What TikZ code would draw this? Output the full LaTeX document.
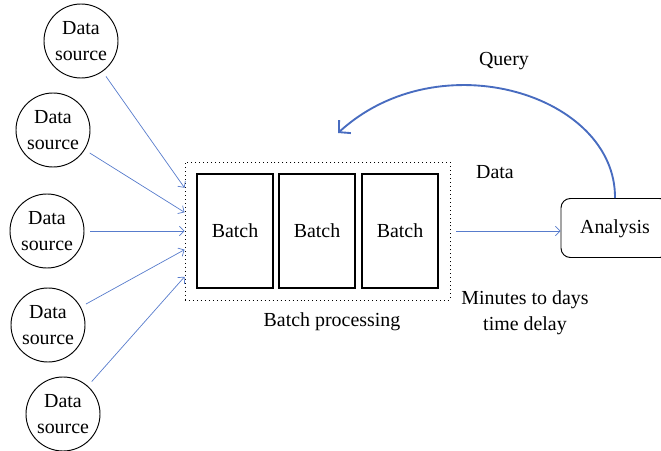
\documentclass[tikz,border=0pt]{standalone}
\usepackage{fontspec}
\setmainfont{Liberation Serif}
\usetikzlibrary{arrows.meta}

\definecolor{feedblue}{RGB}{88,124,204}
\definecolor{queryblue}{RGB}{72,108,192}

\begin{document}
\begin{tikzpicture}[x=0.03cm, y=-0.03cm,
    font=\fontsize{17}{22}\selectfont,
    source/.style={draw, circle, line width=0.8pt, minimum size=2.22cm, inner sep=0pt, align=center},
    batch/.style={draw, line width=0.9pt, minimum width=2.28cm, minimum height=3.42cm},
    feed/.style={draw=feedblue, line width=0.6pt, shorten <=5pt, -{Straight Barb[length=4pt, width=8pt]}},
    query/.style={draw=queryblue, line width=1.6pt, -{Straight Barb[length=7pt, width=15pt]}}]
    \useasboundingbox (0,0) rectangle (661,451);
    % Below nodes are the data sources.
        \node[source] (src1) at (81,41) {Data\\source};
        \node[source] (src2) at (53,130) {Data\\source};
        \node[source] (src3) at (47,231) {Data\\source};
        \node[source] (src4) at (48,325) {Data\\source};
        \node[source] (src5) at (63,414) {Data\\source};
    % The dotted box and the three batches.
        \node[draw, line width=0.8pt, dash pattern=on 0.8pt off 2.6pt, minimum width=7.95cm, minimum height=4.14cm] (proc) at (317.5,231) {};
        \node[batch] (b1) at (235,231) {Batch};
        \node[batch] (b2) at (317,231) {Batch};
        \node[batch] (b3) at (400,231) {Batch};
        \node[draw, rounded corners=8pt, line width=0.8pt, minimum width=3.24cm, minimum height=1.77cm] (ana) at (615,228) {\strut Analysis};
    % Below nodes are the labels.
        \node[] (query) at (504,61) {Query};
        \node[] (data) at (495,172) {Data};
        \node[] (proclabel) at (332,322) {Batch processing};
        \node[align=center] (delay) at (525,313) {Minutes to days\\time delay};
    % Arrows into and out of the batch processing.
        \draw[feed] (src1) -- (proc.162);
        \draw[feed] (src2) -- (proc.172);
        \draw[feed] (src3) -- (proc.180);
        \draw[feed] (src4) -- (proc.188);
        \draw[feed] (src5) -- (proc.199.5);
        \draw[feed] (proc.east) -- (proc.east -| ana.west);
    % This draws the query curve.
        \coordinate (qtip) at (338,133);
        \draw[query] (ana.north) .. controls (616,95) and (440,40) .. (qtip);
\end{tikzpicture}
\end{document}
